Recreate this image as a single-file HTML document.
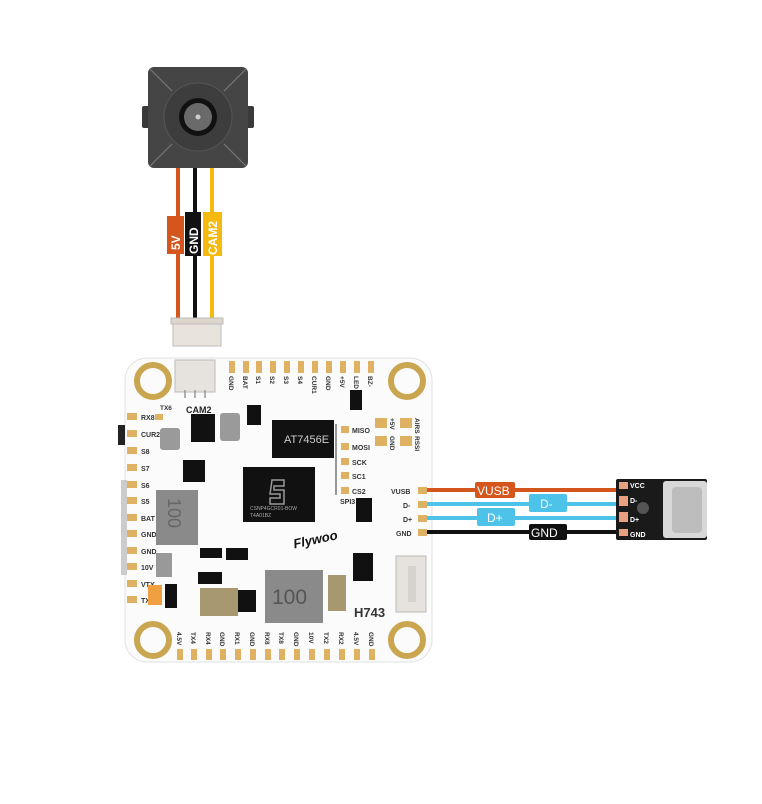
<!DOCTYPE html>
<html><head><meta charset="utf-8"><style>
html,body{margin:0;padding:0;background:#fff;}
svg{display:block;font-family:"Liberation Sans",sans-serif;}
</style></head><body>
<svg width="762" height="804" viewBox="0 0 762 804" xmlns="http://www.w3.org/2000/svg">
<!-- camera -->
<rect x="142" y="106" width="10" height="22" rx="2" fill="#3a3a3a"/>
<rect x="244" y="106" width="10" height="22" rx="2" fill="#3a3a3a"/>
<rect x="148" y="67" width="100" height="101" rx="6" fill="#454545"/>
<g stroke="#777" stroke-width="1.2"><line x1="150" y1="69" x2="172" y2="91"/><line x1="246" y1="69" x2="224" y2="91"/><line x1="150" y1="166" x2="172" y2="144"/><line x1="246" y1="166" x2="224" y2="144"/></g>
<circle cx="198" cy="117" r="34" fill="#3d3d3d" stroke="#555"/>
<circle cx="198" cy="117" r="19" fill="#111"/>
<circle cx="198" cy="117" r="14" fill="#6a6a6a"/>
<circle cx="198" cy="117" r="2.5" fill="#ccc"/>
<!-- camera wires -->
<line x1="178" y1="168" x2="178" y2="322" stroke="#d4561c" stroke-width="4"/>
<line x1="195" y1="168" x2="195" y2="322" stroke="#111" stroke-width="4"/>
<line x1="212" y1="168" x2="212" y2="322" stroke="#f6b90e" stroke-width="4"/>
<rect x="167" y="216" width="17" height="38" fill="#d4561c"/>
<rect x="185" y="212" width="16" height="44" fill="#111"/>
<rect x="203" y="212" width="19" height="44" fill="#f6b90e"/>
<g fill="#fff" font-size="12" font-weight="bold">
<text transform="translate(180,250) rotate(-90)">5V</text>
<text transform="translate(198,254) rotate(-90)">GND</text>
<text transform="translate(217,255) rotate(-90)">CAM2</text>
</g>
<rect x="173" y="320" width="48" height="26" fill="#e8e3dc" stroke="#bbb"/>
<rect x="171" y="318" width="52" height="6" fill="#ddd6cc" stroke="#bbb"/>
<!-- board -->
<rect x="125" y="358" width="307" height="304" rx="22" fill="#fbfbfb" stroke="#e2e2e2"/>
<rect x="118" y="425" width="7" height="20" fill="#222"/>
<rect x="121" y="480" width="6" height="95" fill="#ccc"/>
<g fill="none" stroke="#c9a64f" stroke-width="6">
<circle cx="153" cy="381" r="16"/><circle cx="407" cy="381" r="16"/>
<circle cx="153" cy="640" r="16"/><circle cx="407" cy="640" r="16"/>
</g>
<!-- CAM2 connector on board -->
<rect x="175" y="360" width="40" height="32" fill="#e6e3de" stroke="#bbb"/>
<g stroke="#999" stroke-width="1.5"><line x1="185" y1="390" x2="185" y2="398"/><line x1="195" y1="390" x2="195" y2="398"/><line x1="205" y1="390" x2="205" y2="398"/></g>
<text x="186" y="413" font-size="9" font-weight="bold" fill="#222">CAM2</text>
<!-- top pads -->
<g fill="#deb163">
<rect x="229" y="361" width="6" height="12"/><rect x="243" y="361" width="6" height="12"/><rect x="256" y="361" width="6" height="12"/><rect x="270" y="361" width="6" height="12"/><rect x="284" y="361" width="6" height="12"/><rect x="298" y="361" width="6" height="12"/><rect x="312" y="361" width="6" height="12"/><rect x="326" y="361" width="6" height="12"/><rect x="340" y="361" width="6" height="12"/><rect x="354" y="361" width="6" height="12"/><rect x="368" y="361" width="6" height="12"/>
</g>
<g font-size="6.5" font-weight="bold" fill="#333">
<text transform="translate(229,376) rotate(90)">GND</text><text transform="translate(243,376) rotate(90)">BAT</text><text transform="translate(256,376) rotate(90)">S1</text><text transform="translate(270,376) rotate(90)">S2</text><text transform="translate(284,376) rotate(90)">S3</text><text transform="translate(298,376) rotate(90)">S4</text><text transform="translate(312,376) rotate(90)">CUR1</text><text transform="translate(326,376) rotate(90)">GND</text><text transform="translate(340,376) rotate(90)">+5V</text><text transform="translate(354,376) rotate(90)">LED</text><text transform="translate(368,376) rotate(90)">BZ-</text>
</g>
<!-- left pads -->
<g fill="#deb163">
<rect x="127" y="413" width="10" height="7"/><rect x="127" y="430" width="10" height="7"/><rect x="127" y="447" width="10" height="7"/><rect x="127" y="464" width="10" height="7"/><rect x="127" y="481" width="10" height="7"/><rect x="127" y="497" width="10" height="7"/><rect x="127" y="514" width="10" height="7"/><rect x="127" y="530" width="10" height="7"/><rect x="127" y="547" width="10" height="7"/><rect x="127" y="563" width="10" height="7"/><rect x="127" y="580" width="10" height="7"/><rect x="127" y="596" width="10" height="7"/>
<rect x="155" y="414" width="8" height="6"/>
</g>
<g font-size="7" font-weight="bold" fill="#333">
<text x="141" y="420">RX8</text><text x="141" y="437">CUR2</text><text x="141" y="454">S8</text><text x="141" y="471">S7</text><text x="141" y="488">S6</text><text x="141" y="504">S5</text><text x="141" y="521">BAT</text><text x="141" y="537">GND</text><text x="141" y="554">GND</text><text x="141" y="570">10V</text><text x="141" y="587">VTX</text><text x="141" y="603">TX8</text>
<text x="160" y="410" font-size="6.5">TX6</text>
</g>
<!-- bottom pads -->
<g fill="#deb163">
<rect x="177" y="649" width="6" height="11"/><rect x="191" y="649" width="6" height="11"/><rect x="206" y="649" width="6" height="11"/><rect x="220" y="649" width="6" height="11"/><rect x="235" y="649" width="6" height="11"/><rect x="250" y="649" width="6" height="11"/><rect x="265" y="649" width="6" height="11"/><rect x="279" y="649" width="6" height="11"/><rect x="294" y="649" width="6" height="11"/><rect x="309" y="649" width="6" height="11"/><rect x="324" y="649" width="6" height="11"/><rect x="339" y="649" width="6" height="11"/><rect x="354" y="649" width="6" height="11"/><rect x="369" y="649" width="6" height="11"/>
</g>
<g font-size="6.5" font-weight="bold" fill="#333">
<text transform="translate(177,632) rotate(90)">4.5V</text><text transform="translate(191,632) rotate(90)">TX4</text><text transform="translate(206,632) rotate(90)">RX4</text><text transform="translate(220,632) rotate(90)">GND</text><text transform="translate(235,632) rotate(90)">RX1</text><text transform="translate(250,632) rotate(90)">GND</text><text transform="translate(265,632) rotate(90)">RX8</text><text transform="translate(279,632) rotate(90)">TX8</text><text transform="translate(294,632) rotate(90)">GND</text><text transform="translate(309,632) rotate(90)">10V</text><text transform="translate(324,632) rotate(90)">TX2</text><text transform="translate(339,632) rotate(90)">RX2</text><text transform="translate(354,632) rotate(90)">4.5V</text><text transform="translate(369,632) rotate(90)">GND</text>
</g>
<!-- SPI pads -->
<g fill="#deb163">
<rect x="341" y="426" width="8" height="7"/><rect x="341" y="443" width="8" height="7"/><rect x="341" y="458" width="8" height="7"/><rect x="341" y="472" width="8" height="7"/><rect x="341" y="487" width="8" height="7"/>
<rect x="375" y="418" width="12" height="10"/><rect x="375" y="436" width="12" height="10"/><rect x="400" y="418" width="12" height="10"/><rect x="400" y="436" width="12" height="10"/>
</g>
<line x1="336" y1="424" x2="336" y2="495" stroke="#333" stroke-width="1"/>
<g font-size="7" font-weight="bold" fill="#333">
<text x="352" y="433">MISO</text><text x="352" y="450">MOSI</text><text x="352" y="465">SCK</text><text x="352" y="479">SC1</text><text x="352" y="494">CS2</text><text x="340" y="504">SPI3</text>
<text transform="translate(390,418) rotate(90)" font-size="6.5">+5V</text><text transform="translate(390,436) rotate(90)" font-size="6.5">GND</text>
<text transform="translate(415,418) rotate(90)" font-size="6.5">AIRS</text><text transform="translate(415,436) rotate(90)" font-size="6.5">RSSI</text>
<text x="391" y="494">VUSB</text><text x="403" y="508">D-</text><text x="403" y="522">D+</text><text x="396" y="536">GND</text>
</g>
<g fill="#deb163"><rect x="418" y="487" width="9" height="7"/><rect x="418" y="501" width="9" height="7"/><rect x="418" y="515" width="9" height="7"/><rect x="418" y="529" width="9" height="7"/></g>
<!-- chips -->
<rect x="272" y="420" width="62" height="38" fill="#111"/>
<text x="284" y="443" font-size="11" fill="#ccc">AT7456E</text>
<rect x="243" y="467" width="72" height="55" fill="#111"/>
<path d="M272 480 h12 v6 h-10 v4 h10 v14 h-14 v-6 h10 v-4 h-10 z" fill="none" stroke="#999" stroke-width="1.5"/>
<text x="250" y="510" font-size="5" fill="#aaa">CSNP4GCR01-BOW</text><text x="250" y="517" font-size="5" fill="#aaa">T4A01BZ</text>
<rect x="156" y="490" width="42" height="55" fill="#8a8a8a"/>
<text transform="translate(168,498) rotate(90)" font-size="18" fill="#666">100</text>
<rect x="265" y="570" width="58" height="53" fill="#8a8a8a"/>
<text x="272" y="604" font-size="21" fill="#555">100</text>
<rect x="191" y="414" width="24" height="28" fill="#111"/>
<rect x="183" y="460" width="22" height="22" fill="#111"/>
<rect x="353" y="553" width="20" height="28" fill="#111"/>
<rect x="232" y="590" width="24" height="22" fill="#111"/>
<rect x="356" y="498" width="16" height="24" fill="#111"/>
<rect x="200" y="548" width="22" height="10" fill="#111"/>
<rect x="226" y="548" width="22" height="12" fill="#111"/>
<rect x="198" y="572" width="24" height="12" fill="#111"/>
<rect x="165" y="584" width="12" height="24" fill="#111"/>
<rect x="247" y="405" width="14" height="20" fill="#111"/>
<rect x="350" y="390" width="12" height="20" fill="#111"/>
<rect x="160" y="428" width="20" height="22" rx="3" fill="#9a9a9a"/>
<rect x="220" y="413" width="20" height="28" rx="3" fill="#9a9a9a"/>
<rect x="200" y="588" width="38" height="28" fill="#a89870"/>
<rect x="328" y="575" width="18" height="36" fill="#a89870"/>
<rect x="156" y="553" width="16" height="24" fill="#999"/>
<rect x="148" y="585" width="14" height="20" fill="#f0a040"/>
<text x="293" y="545" font-size="13" font-style="italic" font-weight="bold" fill="#111" transform="rotate(-12 310 540)">Flywoo</text>
<text x="354" y="617" font-size="13" font-weight="bold" fill="#333">H743</text>
<!-- right connector -->
<rect x="396" y="556" width="30" height="56" fill="#e6e3de" stroke="#bbb"/>
<rect x="408" y="566" width="8" height="36" fill="#d6d2cc"/>
<!-- USB wires -->
<line x1="427" y1="490" x2="620" y2="490" stroke="#d4561c" stroke-width="4"/>
<line x1="427" y1="504" x2="620" y2="504" stroke="#4dc3ea" stroke-width="4"/>
<line x1="427" y1="518" x2="620" y2="518" stroke="#4dc3ea" stroke-width="4"/>
<line x1="427" y1="532" x2="620" y2="532" stroke="#111" stroke-width="4"/>
<rect x="475" y="482" width="40" height="16" rx="2" fill="#d4561c"/><text x="477" y="495" font-size="12" fill="#fff">VUSB</text>
<rect x="529" y="494" width="38" height="18" rx="2" fill="#4dc3ea"/><text x="540" y="508" font-size="12" fill="#fff">D-</text>
<rect x="477" y="508" width="38" height="18" rx="2" fill="#4dc3ea"/><text x="487" y="522" font-size="12" fill="#fff">D+</text>
<rect x="529" y="524" width="38" height="16" rx="2" fill="#111"/><text x="531" y="537" font-size="12" fill="#fff">GND</text>
<!-- USB board -->
<rect x="616" y="479" width="91" height="61" rx="2" fill="#1a1a1a"/>
<rect x="663" y="481" width="44" height="57" rx="3" fill="#d8d8d8"/>
<rect x="672" y="487" width="30" height="46" rx="4" fill="#bdbdbd"/>
<g fill="#e8a080"><rect x="619" y="482" width="9" height="7"/><rect x="619" y="496" width="9" height="10"/><rect x="619" y="512" width="9" height="10"/><rect x="619" y="529" width="9" height="7"/></g>
<circle cx="643" cy="508" r="6" fill="#555"/>
<g font-size="7" fill="#fff" font-weight="bold"><text x="630" y="488">VCC</text><text x="630" y="503">D-</text><text x="630" y="522">D+</text><text x="630" y="537">GND</text></g>
</svg>
</body></html>
